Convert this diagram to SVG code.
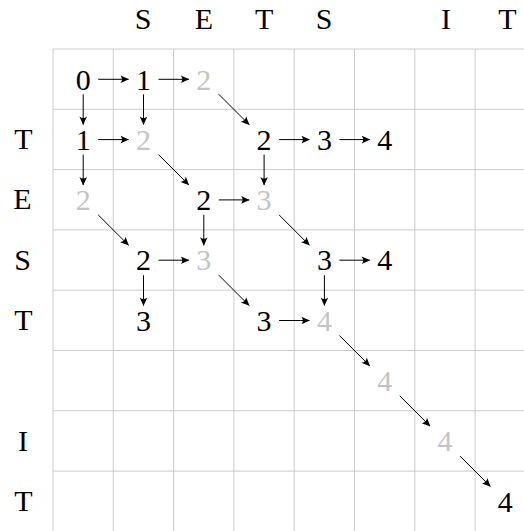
<svg xmlns="http://www.w3.org/2000/svg" width="524" height="531" viewBox="0 0 524 531" font-family="'Liberation Serif', 'Times New Roman', serif" font-size="30">
<style>
.grid line{stroke:#cccccc;stroke-width:1}
.k{fill:#000}
.g{fill:#c4c4c4}
.conn line{stroke:#000;stroke-width:1;marker-end:url(#ah)}
</style>
<defs>
<marker id="ah" markerUnits="userSpaceOnUse" markerWidth="12" markerHeight="10" viewBox="-9 -5 10 10" refX="0" refY="0" orient="auto">
<path d="M0.5,0 L-8,-3.8 Q-5,0 -8,3.8 Z" fill="#000"/>
</marker>
</defs>
<rect width="524" height="531" fill="#fff"/>
<g class="grid" id="grid">
<line x1="53" y1="49" x2="53" y2="531"/>
<line x1="113.3" y1="49" x2="113.3" y2="531"/>
<line x1="173.6" y1="49" x2="173.6" y2="531"/>
<line x1="233.9" y1="49" x2="233.9" y2="531"/>
<line x1="294.2" y1="49" x2="294.2" y2="531"/>
<line x1="354.5" y1="49" x2="354.5" y2="531"/>
<line x1="414.8" y1="49" x2="414.8" y2="531"/>
<line x1="475.1" y1="49" x2="475.1" y2="531"/>
<line x1="53" y1="49" x2="524" y2="49"/>
<line x1="53" y1="109.3" x2="524" y2="109.3"/>
<line x1="53" y1="169.6" x2="524" y2="169.6"/>
<line x1="53" y1="229.9" x2="524" y2="229.9"/>
<line x1="53" y1="290.2" x2="524" y2="290.2"/>
<line x1="53" y1="350.5" x2="524" y2="350.5"/>
<line x1="53" y1="410.8" x2="524" y2="410.8"/>
<line x1="53" y1="471.1" x2="524" y2="471.1"/>
</g>
<g id="col-labels" text-anchor="middle" font-family="'Liberation Serif', 'Times New Roman', serif" font-size="30">
<text x="143" y="28.5">S</text>
<text x="203.8" y="28.5">E</text>
<text x="264.1" y="28.5">T</text>
<text x="324" y="28.5">S</text>
<text x="446" y="28.5">I</text>
<text x="507.5" y="28.5">T</text>
</g>
<g id="row-labels" text-anchor="middle" font-family="'Liberation Serif', 'Times New Roman', serif" font-size="30">
<text x="23.5" y="149">T</text>
<text x="22.5" y="209.3">E</text>
<text x="22.5" y="269.6">S</text>
<text x="23.5" y="329.9">T</text>
<text x="23" y="450.5">I</text>
<text x="23.5" y="510.8">T</text>
</g>
<g id="nodes" text-anchor="middle" font-family="'Liberation Serif', 'Times New Roman', serif" font-size="30">
<g id="n00"><text class="k" x="83.2" y="89.5">0</text></g>
<g id="n10"><text class="k" x="143.5" y="89.5">1</text></g>
<g id="n20"><text class="g" x="203.8" y="89.5">2</text></g>
<g id="n01"><text class="k" x="83.2" y="149.8">1</text></g>
<g id="n11"><text class="g" x="143.5" y="149.8">2</text></g>
<g id="n31"><text class="k" x="264.1" y="149.8">2</text></g>
<g id="n41"><text class="k" x="324.4" y="149.8">3</text></g>
<g id="n51"><text class="k" x="384.7" y="149.8">4</text></g>
<g id="n02"><text class="g" x="83.2" y="210.1">2</text></g>
<g id="n22"><text class="k" x="203.8" y="210.1">2</text></g>
<g id="n32"><text class="g" x="264.1" y="210.1">3</text></g>
<g id="n13"><text class="k" x="143.5" y="270.4">2</text></g>
<g id="n23"><text class="g" x="203.8" y="270.4">3</text></g>
<g id="n43"><text class="k" x="324.4" y="270.4">3</text></g>
<g id="n53"><text class="k" x="384.7" y="270.4">4</text></g>
<g id="n14"><text class="k" x="143.5" y="330.7">3</text></g>
<g id="n34"><text class="k" x="264.1" y="330.7">3</text></g>
<g id="n44"><text class="g" x="324.4" y="330.7">4</text></g>
<g id="n55"><text class="g" x="384.7" y="391">4</text></g>
<g id="n66"><text class="g" x="445" y="451.3">4</text></g>
<g id="n77"><text class="k" x="505.3" y="511.6">4</text></g>
</g>
<g class="conn" id="connectors">
<line x1="98.2" y1="79.3" x2="128.5" y2="79.3"/>
<line x1="158.5" y1="79.3" x2="188.8" y2="79.3"/>
<line x1="98.2" y1="139.6" x2="128.5" y2="139.6"/>
<line x1="279.1" y1="139.6" x2="309.4" y2="139.6"/>
<line x1="339.4" y1="139.6" x2="369.7" y2="139.6"/>
<line x1="218.8" y1="199.9" x2="249.1" y2="199.9"/>
<line x1="158.5" y1="260.2" x2="188.8" y2="260.2"/>
<line x1="339.4" y1="260.2" x2="369.7" y2="260.2"/>
<line x1="279.1" y1="320.5" x2="309.4" y2="320.5"/>
<line x1="83.2" y1="94.3" x2="83.2" y2="124.6"/>
<line x1="143.5" y1="94.3" x2="143.5" y2="124.6"/>
<line x1="83.2" y1="154.6" x2="83.2" y2="184.9"/>
<line x1="264.1" y1="154.6" x2="264.1" y2="184.9"/>
<line x1="203.8" y1="214.9" x2="203.8" y2="245.2"/>
<line x1="324.4" y1="275.2" x2="324.4" y2="305.5"/>
<line x1="143.5" y1="275.2" x2="143.5" y2="305.5"/>
<line x1="218.8" y1="94.3" x2="249.1" y2="124.6"/>
<line x1="158.5" y1="154.6" x2="188.8" y2="184.9"/>
<line x1="98.2" y1="214.9" x2="128.5" y2="245.2"/>
<line x1="279.1" y1="214.9" x2="309.4" y2="245.2"/>
<line x1="218.8" y1="275.2" x2="249.1" y2="305.5"/>
<line x1="339.4" y1="335.5" x2="369.7" y2="365.8"/>
<line x1="399.7" y1="395.8" x2="430" y2="426.1"/>
<line x1="460" y1="456.1" x2="490.3" y2="486.4"/>
</g>
</svg>
